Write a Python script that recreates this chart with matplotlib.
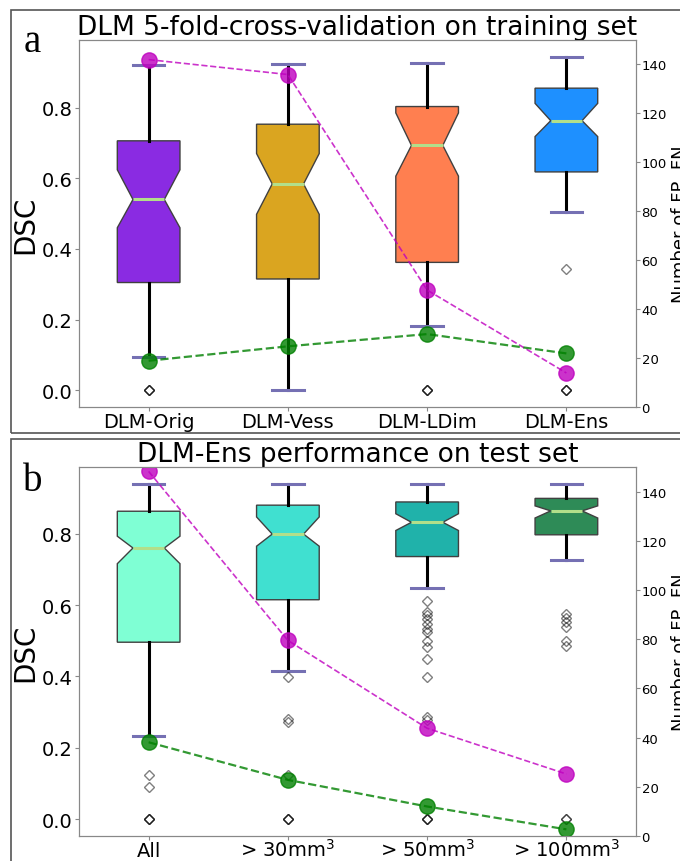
import numpy as np
import matplotlib
matplotlib.use("Agg")
import matplotlib.pyplot as plt
from matplotlib.patches import Rectangle

# panel a: 5-fold cross-validation on training set
labels_a = ["DLM-Orig", "DLM-Vess", "DLM-LDim", "DLM-Ens"]
colors_a = ["#8A2BE2", "#DAA520", "#FF7F50", "#1E90FF"]
q1_a = [0.305, 0.315, 0.362, 0.618]
med_a = [0.540, 0.584, 0.693, 0.763]
q3_a = [0.706, 0.753, 0.803, 0.855]
whislo_a = [0.094, 0.0, 0.183, 0.505]
whishi_a = [0.920, 0.923, 0.925, 0.944]
cilo_a = [0.460, 0.498, 0.606, 0.718]
cihi_a = [0.624, 0.670, 0.785, 0.812]
fliers_a = [[0.0, 0.0, 0.0], [], [0.0, 0.0, 0.0], [0.343, 0.0, 0.0, 0.0]]
fp_a = [142.0, 135.9, 47.8, 13.9]
fn_a = [18.9, 24.8, 29.8, 21.9]

# panel b: DLM-Ens on test set
labels_b = ["All", "> 30mm$^3$", "> 50mm$^3$", "> 100mm$^3$"]
colors_b = ["#7FFFD4", "#40E0D0", "#20B2AA", "#2E8B57"]
q1_b = [0.496, 0.615, 0.736, 0.797]
med_b = [0.760, 0.799, 0.832, 0.864]
q3_b = [0.863, 0.880, 0.889, 0.899]
whislo_b = [0.232, 0.416, 0.648, 0.727]
whishi_b = [0.940, 0.940, 0.940, 0.940]
cilo_b = [0.716, 0.765, 0.809, 0.844]
cihi_b = [0.793, 0.847, 0.856, 0.878]
fliers_b = [[0.124, 0.091, 0.0, 0.0, 0.0],
            [0.398, 0.281, 0.273, 0.125, 0.0, 0.0, 0.0],
            [0.611, 0.580, 0.571, 0.561, 0.547, 0.533, 0.524, 0.500,
             0.482, 0.449, 0.398, 0.286, 0.279, 0.0, 0.0, 0.0],
            [0.575, 0.563, 0.552, 0.538, 0.500, 0.486, 0.0, 0.0]]
fp_b = [148.2, 79.5, 43.8, 25.2]
fn_b = [38.1, 22.8, 12.0, 2.7]

SPINE = "#888888"


def draw_panel(fig, rect, labels, colors, q1, med, q3, lo, hi, cilo, cihi,
               fliers, fp, fn, title):
    ax = fig.add_axes(rect)
    stats = []
    for i in range(len(labels)):
        stats.append(dict(q1=q1[i], med=med[i], q3=q3[i], whislo=lo[i],
                          whishi=hi[i], cilo=cilo[i], cihi=cihi[i],
                          fliers=np.array(fliers[i]), label=labels[i]))
    bp = ax.bxp(stats, shownotches=True, patch_artist=True, widths=0.45,
                flierprops=dict(marker="D", markerfacecolor="none",
                                markeredgecolor="black", markersize=5,
                                alpha=0.5))
    for box, c in zip(bp["boxes"], colors):
        box.set(facecolor=c, edgecolor="#404040", linewidth=1)
    for w in bp["whiskers"]:
        w.set(color="black", linewidth=2.2)
    for cap in bp["caps"]:
        cap.set(color="#7570b3", linewidth=2.2)
    for m in bp["medians"]:
        m.set(color="#b2df8a", linewidth=2.2)

    ax.set_title(title, fontsize=19, pad=3)
    ax.set_ylabel("DSC", fontsize=20, labelpad=2)
    ax.tick_params(axis="y", labelsize=14, color=SPINE, length=3, pad=1.5)
    ax.tick_params(axis="x", labelsize=14, color=SPINE, length=3, pad=11.4)
    for t in ax.get_xticklabels():
        t.set_va("baseline")

    ax2 = ax.twinx()
    pos = np.arange(1, len(labels) + 1)
    ax2.plot(pos, fp, "--o", color="m", lw=1.2, ms=11, alpha=0.8)
    ax2.plot(pos, fn, "--o", color="g", lw=1.6, ms=11, alpha=0.8)
    ax2.set_ylim(0, 150)
    ax2.set_ylabel("Number of FP, FN", fontsize=13, labelpad=3)
    ax2.tick_params(axis="y", labelsize=9.5, color=SPINE, length=3, pad=1)
    for a in (ax, ax2):
        for s in a.spines.values():
            s.set_color(SPINE)
    return ax


fig = plt.figure(figsize=(6.8, 8.62), dpi=100)

draw_panel(fig, [0.1162, 0.5267, 0.8191, 0.4257], labels_a, colors_a,
           q1_a, med_a, q3_a, whislo_a, whishi_a, cilo_a, cihi_a, fliers_a,
           fp_a, fn_a, "DLM 5-fold-cross-validation on training set")
draw_panel(fig, [0.1162, 0.0290, 0.8191, 0.4281], labels_b, colors_b,
           q1_b, med_b, q3_b, whislo_b, whishi_b, cilo_b, cihi_b, fliers_b,
           fp_b, fn_b, "DLM-Ens performance on test set")

# panel frames and letters
fig.add_artist(Rectangle((0.0162, 0.4965), 1.0, 0.4907, transform=fig.transFigure,
                         fill=False, edgecolor="#555555", lw=1.2))
fig.add_artist(Rectangle((0.0162, -0.02), 1.0, 0.5101, transform=fig.transFigure,
                         fill=False, edgecolor="#555555", lw=1.2))
fig.text(32 / 680, 1 - 52 / 862, "a", fontsize=28, family="Liberation Serif",
         ha="center", va="baseline")
fig.text(33 / 680, 1 - 491 / 862, "b", fontsize=28, family="Liberation Serif",
         ha="center", va="baseline")

fig.savefig("out.png", dpi=100)
